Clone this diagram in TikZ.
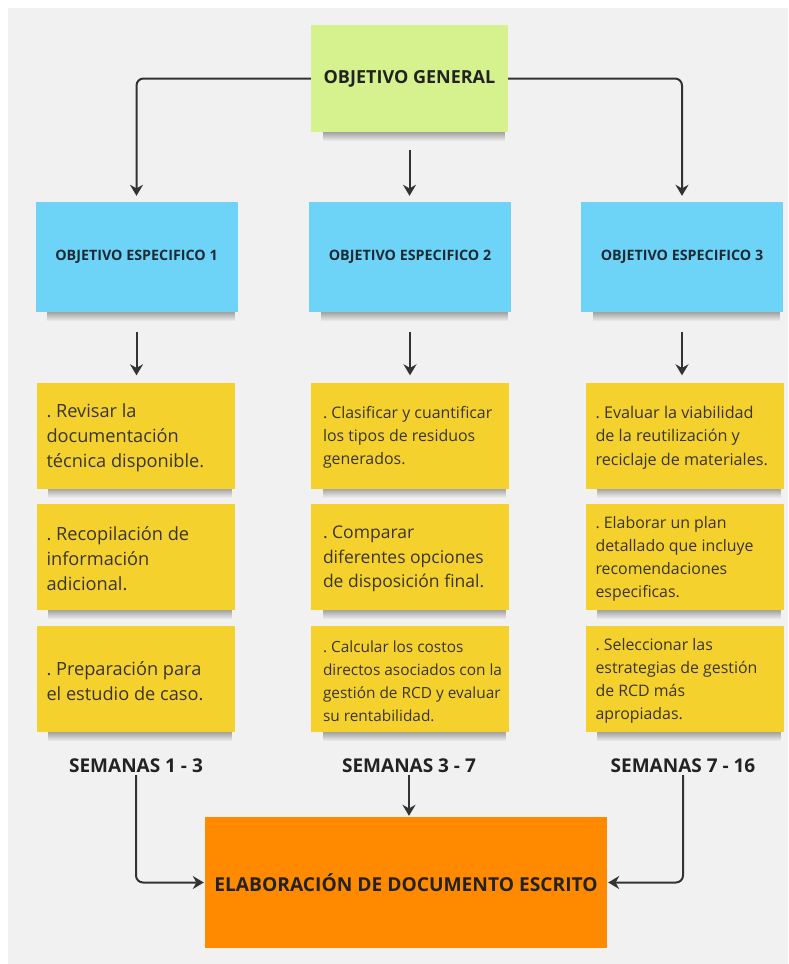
\documentclass[tikz,border=0pt]{standalone}
\usepackage{fontspec}
\setmainfont{Open Sans}
\usetikzlibrary{arrows.meta,fadings}
\definecolor{bg}{HTML}{F1F1F1}
\definecolor{gen}{HTML}{D5F28F}
\definecolor{esp}{HTML}{6DD4F7}
\definecolor{yel}{HTML}{F5D12E}
\definecolor{ora}{HTML}{FF8A00}
\definecolor{arrc}{HTML}{333333}
\definecolor{txt}{HTML}{222222}
\definecolor{etxt}{HTML}{1C2A36}
\definecolor{ytxt}{HTML}{3A3530}
\frenchspacing
\tikzset{
  gbox/.style={fill=gen, minimum width=197pt, minimum height=107pt, inner sep=0pt,
    text=txt, font=\bfseries\fontsize{18}{21}\selectfont},
  ebox/.style={fill=esp, minimum width=202pt, minimum height=110pt, inner sep=0pt,
    text=etxt, font=\bfseries\fontsize{14.3}{17}\selectfont},
  sticky/.style={fill=yel, minimum width=198pt, minimum height=106pt, inner sep=0pt},
  note/.style={anchor=west, inner sep=0pt, align=left, text=ytxt},
  big/.style={font=\fontsize{18.2}{25}\selectfont},
  bigb/.style={font=\fontsize{17.5}{24.5}\selectfont},
  mid/.style={font=\fontsize{15.9}{23}\selectfont},
  midc/.style={font=\fontsize{16.2}{23.5}\selectfont},
  small/.style={font=\fontsize{15.4}{23}\selectfont},
  wk/.style={text=txt, inner sep=2pt, font=\bfseries\fontsize{19}{22}\selectfont},
  obox/.style={fill=ora, minimum width=402pt, minimum height=131pt, inner sep=0pt,
    text=txt, font=\bfseries\fontsize{19.2}{22}\selectfont},
  arr/.style={draw=arrc, line width=2pt, -{Stealth[length=11pt,width=13pt]}},
  shad/.style={fill=black, opacity=0.32, path fading=south}
}
\newcommand{\shadowof}[1]{%
  \fill[shad] ([xshift=12pt]#1.south west) rectangle ([xshift=-3pt,yshift=-9pt]#1.south east);}
\begin{document}
\begin{tikzpicture}[x=1pt,y=-1pt]
\useasboundingbox (0,0) rectangle (788,964);
\fill[bg] (8,8) rectangle (788,964);

% top
\node[gbox] (og) at (409.5,78.5) {OBJETIVO GENERAL};
\shadowof{og}

% specific objectives
\node[ebox] (oe1) at (136.5,257) {OBJETIVO ESPECIFICO 1};
\node[ebox] (oe2) at (410,257) {OBJETIVO ESPECIFICO 2};
\node[ebox] (oe3) at (682,257) {OBJETIVO ESPECIFICO 3};
\shadowof{oe1}\shadowof{oe2}\shadowof{oe3}

% sticky boxes
\node[sticky] (a1) at (135.5,435.5) {};
\node[sticky] (a2) at (135.5,557) {};
\node[sticky] (a3) at (135.5,679) {};
\node[sticky] (b1) at (410,435.5) {};
\node[sticky] (b2) at (410,557) {};
\node[sticky] (b3) at (410,679) {};
\node[sticky] (c1) at (684.5,435.5) {};
\node[sticky] (c2) at (684.5,557) {};
\node[sticky] (c3) at (684.5,679) {};
\shadowof{a1}\shadowof{a2}\shadowof{b1}\shadowof{b2}\shadowof{c1}\shadowof{c2}
\shadowof{a3}\shadowof{b3}\shadowof{c3}

% sticky texts
\node[note,big] (a1t) at ([xshift=10pt,yshift=-2pt]a1.west) {. Revisar la\\documentación\\técnica disponible.};
\node[note,big] (a2t) at ([xshift=10pt,yshift=-2pt]a2.west) {. Recopilación de\\información\\adicional.};
\node[note,big] (a3t) at ([xshift=10pt,yshift=-2pt]a3.west) {. Preparación para\\el estudio de caso.};
\node[note,mid] (b1t) at ([xshift=12pt,yshift=-2pt]b1.west) {. Clasificar y cuantificar\\los tipos de residuos\\generados.};
\node[note,bigb] (b2t) at ([xshift=12pt,yshift=-2pt]b2.west) {. Comparar\\diferentes opciones\\de disposición final.};
\node[note,small] (b3t) at ([xshift=12pt,yshift=-2pt]b3.west) {. Calcular los costos\\directos asociados con la\\gestión de RCD y evaluar\\su rentabilidad.};
\node[note,midc] (c1t) at ([xshift=10pt,yshift=-2pt]c1.west) {. Evaluar la viabilidad\\de la reutilización y\\reciclaje de materiales.};
\node[note,mid] (c2t) at ([xshift=10pt,yshift=-2pt]c2.west) {. Elaborar un plan\\detallado que incluye\\recomendaciones\\especificas.};
\node[note,mid] (c3t) at ([xshift=10pt,yshift=-2pt]c3.west) {. Seleccionar las\\estrategias de gestión\\de RCD más\\apropiadas.};

% weeks
\node[wk] (w1) at (136,766) {SEMANAS 1 - 3};
\node[wk] (w2) at (409,766) {SEMANAS 3 - 7};
\node[wk] (w3) at (683,766) {SEMANAS 7 - 16};

% final
\node[obox] (doc) at (406,882.5) {ELABORACIÓN DE DOCUMENTO ESCRITO};

% connectors
\draw[arr, rounded corners=7pt, shorten >=6pt] (og.west) -| (oe1.north);
\draw[arr, rounded corners=7pt, shorten >=6pt] (og.east) -| (oe3.north);
\draw[arr, shorten <=18pt, shorten >=6pt] (og.south) -- (og.south |- oe2.north);
\draw[arr, shorten <=20pt, shorten >=7pt] (oe1.south) -- (oe1.south |- a1.north);
\draw[arr, shorten <=20pt, shorten >=7pt] (oe2.south) -- (oe2.south |- b1.north);
\draw[arr, shorten <=20pt, shorten >=7pt] (oe3.south) -- (oe3.south |- c1.north);
\draw[arr, rounded corners=7pt, shorten >=1pt] (w1.south) |- (doc.west);
\draw[arr, rounded corners=7pt, shorten >=1pt] (w3.south) |- (doc.east);
\draw[arr, shorten >=1pt] (w2.south) -- (w2.south |- doc.north);
\end{tikzpicture}
\end{document}
